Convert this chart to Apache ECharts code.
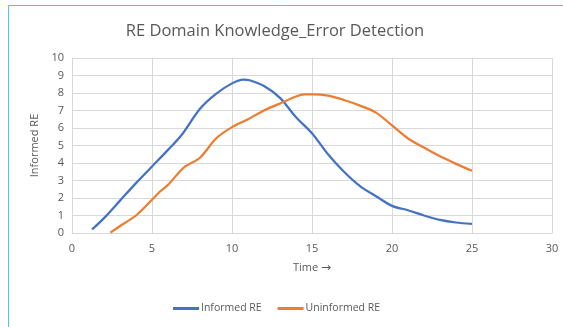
<!DOCTYPE html>
<html>
<head>
<meta charset="utf-8">
<script src="https://cdn.jsdelivr.net/npm/echarts@6/dist/echarts.min.js"></script>
<style>
    html, body { margin: 0; padding: 0; background: #ffffff; }
    #chart { width: 563px; height: 327px; }
</style>
</head>
<body>
<div id="chart"></div>
<script>
    // values
    var informedX = [1.25, 2, 3, 4, 5, 6, 6.85, 8, 9, 10, 10.7, 11.1, 12, 13, 14, 15, 16, 17, 18, 19, 20, 21, 22, 23, 24, 25];
    var informedY = [0.2, 0.85, 1.85, 2.85, 3.8, 4.75, 5.6, 7.1, 7.95, 8.55, 8.77, 8.73, 8.4, 7.72, 6.62, 5.7, 4.5, 3.5, 2.68, 2.1, 1.55, 1.3, 1.0, 0.75, 0.6, 0.52];
    var uninformedX = [2.4, 3, 4, 5, 5.5, 6, 7, 8, 9, 10, 11, 12, 13, 14, 14.5, 15, 16, 17, 18, 19, 20, 21, 22, 23, 24, 25];
    var uninformedY = [0.02, 0.4, 1.0, 1.9, 2.37, 2.75, 3.75, 4.3, 5.4, 6.05, 6.5, 7.0, 7.4, 7.8, 7.92, 7.92, 7.85, 7.6, 7.28, 6.88, 6.15, 5.4, 4.88, 4.38, 3.95, 3.56];
    var seriesNames = ['Informed RE', 'Uninformed RE'];

    function pairs(xs, ys) {
        return xs.map(function (x, i) { return [x, ys[i]]; });
    }

    var font = '"Open Sans", "Liberation Sans", sans-serif';
    var chart = echarts.init(document.getElementById('chart'));
    chart.setOption({
        animation: false,
        textStyle: { fontFamily: font },
        title: {
            text: 'RE Domain Knowledge_Error Detection',
            left: 270,
            top: 18,
            textAlign: 'center',
            textStyle: { fontFamily: font, fontSize: 16.5, fontWeight: 'normal', color: '#595959' }
        },
        graphic: [
            { type: 'line', shape: { x1: 8.5, y1: 5.5, x2: 563, y2: 5.5 }, style: { stroke: '#4fc3f7', lineWidth: 1 } },
            { type: 'line', shape: { x1: 8.5, y1: 5.5, x2: 8.5, y2: 327 }, style: { stroke: '#4fc3f7', lineWidth: 1 } }
        ],
        legend: {
            data: seriesNames,
            bottom: 8,
            left: 168,
            itemWidth: 26,
            itemHeight: 3,
            itemGap: 16,
            icon: 'rect',
            textStyle: { fontFamily: font, fontSize: 10.5, color: '#595959', padding: [0, 0, 0, -3] }
        },
        grid: { left: 72, right: 11, top: 58, bottom: 94 },
        xAxis: {
            type: 'value',
            min: 0,
            max: 30,
            interval: 5,
            name: 'Time {a|\u2192}',
            nameLocation: 'middle',
            nameGap: 29,
            nameTextStyle: {
                fontFamily: font, fontSize: 11, color: '#595959',
                rich: { a: { fontFamily: '"DejaVu Sans"', fontSize: 12, color: '#595959' } }
            },
            axisLine: { lineStyle: { color: '#d9d9d9' } },
            axisTick: { show: false },
            axisLabel: { fontFamily: font, fontSize: 11, color: '#595959', margin: 10 },
            splitLine: { lineStyle: { color: '#d9d9d9' } }
        },
        yAxis: {
            type: 'value',
            min: 0,
            max: 10,
            interval: 1,
            name: 'Informed RE',
            nameLocation: 'middle',
            nameGap: 29,
            nameTextStyle: { fontFamily: font, fontSize: 11, color: '#595959' },
            axisLine: { show: false },
            axisTick: { show: false },
            axisLabel: { fontFamily: font, fontSize: 11, color: '#595959', margin: 8 },
            splitLine: { lineStyle: { color: '#d9d9d9' } }
        },
        series: [
            {
                name: seriesNames[0],
                type: 'line',
                data: pairs(informedX, informedY),
                smooth: 0.3,
                showSymbol: false,
                itemStyle: { color: '#4472c4' },
                lineStyle: { color: '#4472c4', width: 2.25 }
            },
            {
                name: seriesNames[1],
                type: 'line',
                data: pairs(uninformedX, uninformedY),
                smooth: 0.3,
                showSymbol: false,
                itemStyle: { color: '#ed7d31' },
                lineStyle: { color: '#ed7d31', width: 2.25 }
            }
        ]
    });
</script>
</body>
</html>
